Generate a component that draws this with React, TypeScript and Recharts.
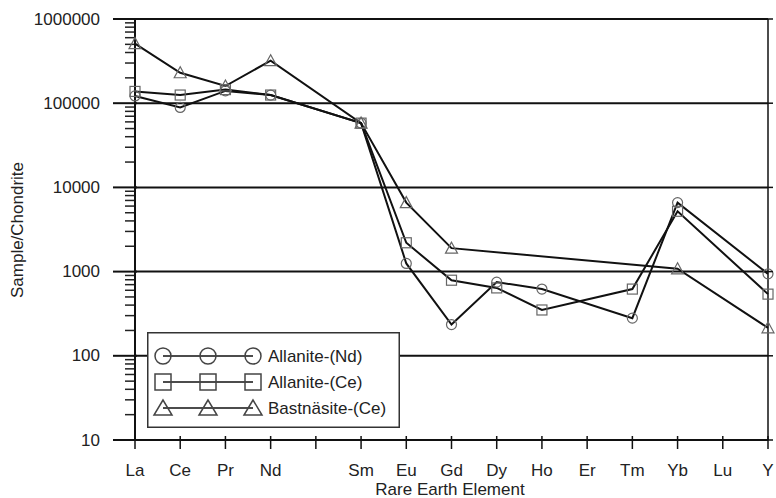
import React from 'react';
import { LineChart, Line, XAxis, YAxis, ReferenceLine, Legend } from 'recharts';

// Chondrite-normalised REE values
const elements = ['La', 'Ce', 'Pr', 'Nd', '', 'Sm', 'Eu', 'Gd', 'Dy', 'Ho', 'Er', 'Tm', 'Yb', 'Lu', 'Y'];
const allaniteNd = [122000, 89000, 140000, 125000, null, 58000, 1250, 235, 750, 620, null, 280, 6600, null, 940];
const allaniteCe = [138000, 125000, 145000, 125000, null, 58000, 2200, 790, 640, 350, null, 620, 5200, null, 540];
const bastnasiteCe = [510000, 230000, 160000, 320000, null, 58000, 6600, 1900, null, null, null, null, 1080, null, 215];

const seriesNames = ['Allanite-(Nd)', 'Allanite-(Ce)', 'Bastnäsite-(Ce)'];
const majorTicks = [10, 100, 1000, 10000, 100000, 1000000];
const minorTicks = [
  20, 30, 40, 50, 60, 70, 80, 90,
  200, 300, 400, 500, 600, 700, 800, 900,
  2000, 3000, 4000, 5000, 6000, 7000, 8000, 9000,
  20000, 30000, 40000, 50000, 60000, 70000, 80000, 90000,
  200000, 300000, 400000, 500000, 600000, 700000, 800000, 900000,
];

const data = elements.map((el, i) => ({
  el,
  nd: allaniteNd[i],
  ce: allaniteCe[i],
  bas: bastnasiteCe[i],
}));

const FONT = 'Liberation Sans, Arial, sans-serif';
const MARK = '#666';
const TEXT = '#222';

const CircleDot = (p: any) =>
  p.cy == null || p.value == null ? null : (
    <circle cx={p.cx} cy={p.cy} r={5} fill="none" stroke={MARK} strokeWidth={1.2} />
  );
const SquareDot = (p: any) =>
  p.cy == null || p.value == null ? null : (
    <rect x={p.cx - 5} y={p.cy - 5} width={10} height={10} fill="none" stroke={MARK} strokeWidth={1.2} />
  );
const TriDot = (p: any) =>
  p.cy == null || p.value == null ? null : (
    <polygon
      points={`${p.cx},${p.cy - 6} ${p.cx - 6},${p.cy + 5} ${p.cx + 6},${p.cy + 5}`}
      fill="none"
      stroke={MARK}
      strokeWidth={1.2}
    />
  );

const LeftTick = (props: any) => {
  const { x, y, payload } = props;
  return (
    <g>
      <line x1={x - 22} x2={x + 2} y1={y} y2={y} stroke="#111" strokeWidth={2} />
      <text x={x - 35} y={y} textAnchor="end" dominantBaseline="central" fontSize={17} fontFamily={FONT} fill={TEXT}>
        {payload.value}
      </text>
    </g>
  );
};

// short minor tick just outside the left axis
const MinorTick = (props: any) => {
  const x = Math.min(props.x1, props.x2);
  return <path d={`M${x - 10},${props.y1}H${x}`} stroke="#222" strokeWidth={1.5} fill="none" />;
};

const RightTick = (props: any) => {
  const { x, y } = props;
  return <line x1={x} x2={x + 5} y1={y} y2={y} stroke="#111" strokeWidth={1.5} />;
};

const BottomTick = (props: any) => {
  const { x, y, payload } = props;
  return (
    <g>
      <line x1={x} x2={x} y1={y - 4} y2={y + 9} stroke="#111" strokeWidth={1.5} />
      <text x={x} y={y + 30} textAnchor="middle" dominantBaseline="central" fontSize={17} fontFamily={FONT} fill={TEXT}>
        {payload.value}
      </text>
    </g>
  );
};

const LegendBox = () => {
  const shapes = ['circle', 'square', 'triangle'];
  return (
    <svg width={253} height={96} style={{ display: 'block' }}>
      <rect x={0.75} y={0.75} width={251.5} height={94.5} fill="#fff" stroke="#333" strokeWidth={1.5} />
      {seriesNames.map((name, i) => {
        const cy = 24 + i * 26;
        return (
          <g key={name}>
            <line x1={16} x2={106} y1={cy} y2={cy} stroke="#111" strokeWidth={1.5} />
            {[16, 61, 106].map((cx) =>
              shapes[i] === 'circle' ? (
                <circle key={cx} cx={cx} cy={cy} r={8} fill="none" stroke="#444" strokeWidth={1.5} />
              ) : shapes[i] === 'square' ? (
                <rect key={cx} x={cx - 8} y={cy - 8} width={16} height={16} fill="none" stroke="#444" strokeWidth={1.5} />
              ) : (
                <polygon
                  key={cx}
                  points={`${cx},${cy - 8} ${cx - 9},${cy + 7} ${cx + 9},${cy + 7}`}
                  fill="none"
                  stroke="#444"
                  strokeWidth={1.5}
                />
              )
            )}
            <text x={121} y={cy} dominantBaseline="central" fontSize={17} fontFamily={FONT} fill={TEXT}>
              {name}
            </text>
          </g>
        );
      })}
    </svg>
  );
};

export default function App() {
  return (
    <div style={{ position: 'absolute', left: 0, top: 0, background: '#fff' }}>
      <LineChart width={776} height={498} data={data} margin={{ top: 19, right: 0, bottom: 0, left: 0 }}>
        <XAxis
          dataKey="el"
          interval={0}
          height={58}
          padding={{ left: 0, right: 0 }}
          tickLine={false}
          tickSize={0}
          tickMargin={0}
          tick={<BottomTick />}
          axisLine={{ stroke: '#111', strokeWidth: 2 }}
          label={{
            content: () => (
              <text x={450} y={489} textAnchor="middle" dominantBaseline="central" fontSize={17} fontFamily={FONT} fill={TEXT}>
                Rare Earth Element
              </text>
            ),
          }}
        />
        <YAxis
          yAxisId="left"
          scale="log"
          domain={[10, 1000000]}
          ticks={majorTicks}
          interval={0}
          width={135}
          tickLine={false}
          tickSize={0}
          tickMargin={0}
          tick={<LeftTick />}
          axisLine={{ stroke: '#111', strokeWidth: 2 }}
          allowDataOverflow
          label={{
            content: () => (
              <text
                x={17}
                y={230}
                transform="rotate(-90 17 230)"
                textAnchor="middle"
                dominantBaseline="central"
                fontSize={17}
                fontFamily={FONT}
                fill={TEXT}
              >
                Sample/Chondrite
              </text>
            ),
          }}
        />
        <YAxis
          yAxisId="right"
          orientation="right"
          scale="log"
          domain={[10, 1000000]}
          ticks={majorTicks}
          interval={0}
          width={8}
          tickLine={false}
          tickSize={0}
          tickMargin={0}
          tick={<RightTick />}
          axisLine={{ stroke: '#111', strokeWidth: 1.5 }}
          allowDataOverflow
        />
        {majorTicks.map((v) => (
          <ReferenceLine key={`g${v}`} yAxisId="left" y={v} stroke="#111" strokeWidth={2} />
        ))}
        {minorTicks.map((v) => (
          <ReferenceLine key={`m${v}`} yAxisId="left" y={v} stroke="#222" strokeWidth={1.5} shape={MinorTick} />
        ))}
        <Legend
          layout="horizontal"
          verticalAlign="middle"
          align="center"
          wrapperStyle={{ left: 147, top: 332, width: 253, height: 96 }}
          content={() => <LegendBox />}
        />
        <Line yAxisId="left" dataKey="nd" name={seriesNames[0]} stroke="#111" strokeWidth={2} connectNulls dot={<CircleDot />} isAnimationActive={false} />
        <Line yAxisId="left" dataKey="ce" name={seriesNames[1]} stroke="#111" strokeWidth={2} connectNulls dot={<SquareDot />} isAnimationActive={false} />
        <Line yAxisId="left" dataKey="bas" name={seriesNames[2]} stroke="#111" strokeWidth={2} connectNulls dot={<TriDot />} isAnimationActive={false} />
      </LineChart>
    </div>
  );
}
